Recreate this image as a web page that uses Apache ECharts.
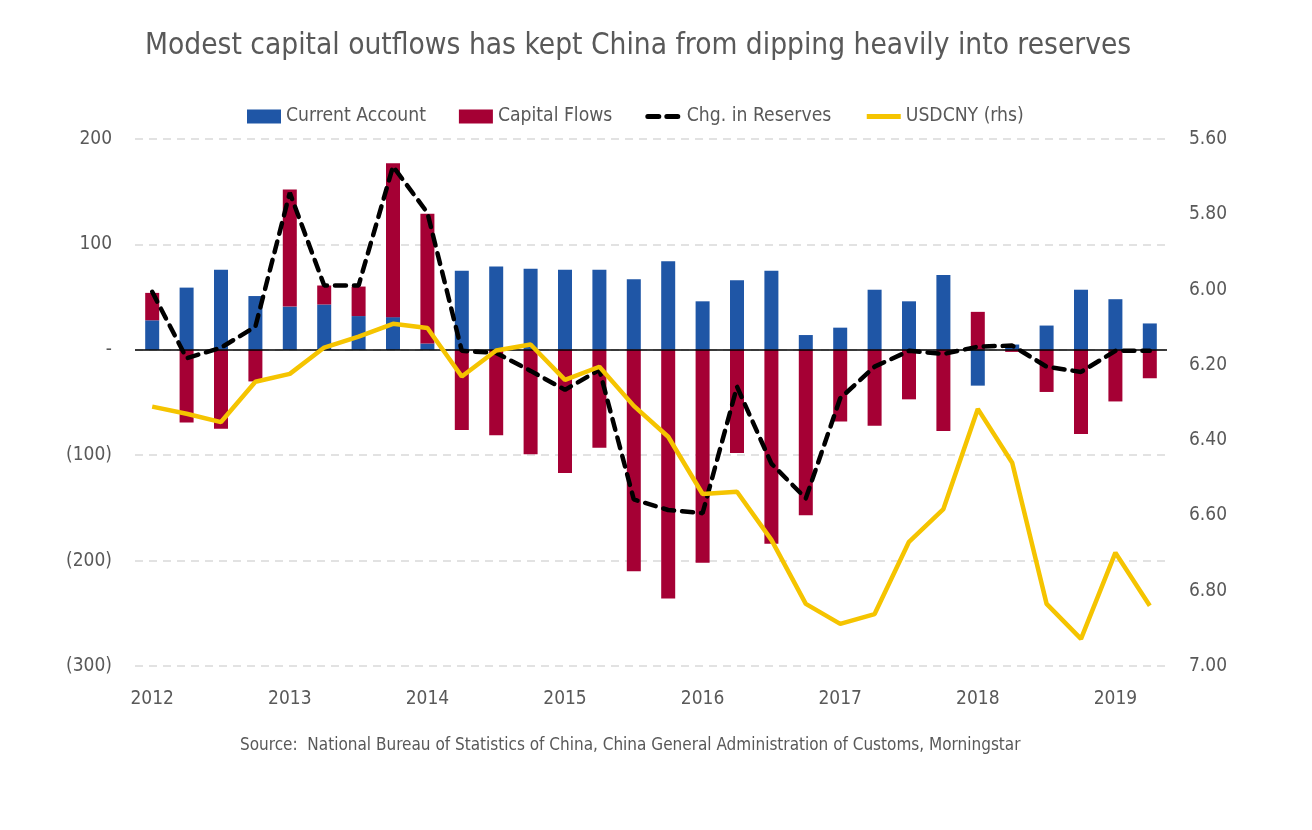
<!DOCTYPE html>
<html>
<head>
<meta charset="utf-8">
<script src="https://cdn.jsdelivr.net/npm/echarts@6/dist/echarts.min.js"></script>
<style>
html,body{margin:0;padding:0;background:#fff;}
#chart{width:1312px;height:830px;}
</style>
</head>
<body>
<div id="chart"></div>
<script>
var quarters = ['2012Q1','2012Q2','2012Q3','2012Q4','2013Q1','2013Q2','2013Q3','2013Q4',
  '2014Q1','2014Q2','2014Q3','2014Q4','2015Q1','2015Q2','2015Q3','2015Q4',
  '2016Q1','2016Q2','2016Q3','2016Q4','2017Q1','2017Q2','2017Q3','2017Q4',
  '2018Q1','2018Q2','2018Q3','2018Q4','2019Q1','2019Q2'];
var currentAccount = [28,59,76,51,41,43,32,31,6,75,79,77,76,76,67,84,46,66,75,14,21,57,46,71,-34,5,23,57,48,25];
var capitalFlows = [26,-69,-75,-30,111,18,28,146,123,-76,-81,-99,-117,-93,-210,-236,-202,-98,-184,-157,-68,-72,-47,-77,36,-2,-40,-80,-49,-27];
var chgReserves = [55,-8,2,22,149,61,61,174,130,-1,-3,-20,-38,-19,-142,-152,-155,-35,-108,-141,-46,-16,-1,-4,3,4,-16,-21,-1,-1];
var usdcny = [6.311,6.330,6.352,6.245,6.224,6.154,6.125,6.091,6.102,6.231,6.162,6.146,6.240,6.205,6.309,6.391,6.543,6.537,6.665,6.835,6.888,6.862,6.670,6.583,6.317,6.460,6.835,6.928,6.699,6.840];
var leftTicks = {min:-300, max:200, interval:100};
var rightTicks = {min:5.6, max:7.0, interval:0.2};

var FONT = '"DejaVu Sans Condensed","Liberation Sans Narrow","Roboto",sans-serif';
var TXT = '#595959';

var chart = echarts.init(document.getElementById('chart'));
chart.setOption({
  animation:false,
  textStyle:{fontFamily:FONT, color:TXT},
  title:{
    text:'Modest capital outflows has kept China from dipping heavily into reserves',
    left:140, top:26,
    textStyle:{fontFamily:FONT, fontSize:29.6, fontWeight:'normal', color:TXT}
  },
  legend:{
    top:102, left:242, itemWidth:34, itemHeight:14, itemGap:33,
    textStyle:{fontFamily:FONT, fontSize:19.2, color:TXT},
    data:[
      {name:'Current Account', icon:'rect'},
      {name:'Capital Flows', icon:'rect'},
      {name:'Chg. in Reserves', itemStyle:{opacity:0}, lineStyle:{width:5}},
      {name:'USDCNY (rhs)', itemStyle:{opacity:0}, lineStyle:{width:5}}
    ]
  },
  graphic:[{
    type:'text', left:240, top:737,
    style:{text:'Source:  National Bureau of Statistics of China, China General Administration of Customs, Morningstar',
      font:'17px ' + FONT, fill:TXT}
  }],
  grid:{left:135, right:145, top:139, bottom:164},
  xAxis:{
    type:'category', data:quarters,
    axisLine:{show:false, onZero:false}, axisTick:{show:false},
    axisLabel:{interval:3, margin:24, fontSize:19, color:TXT, fontFamily:FONT,
      formatter:function(v){return v.slice(0,4);}}
  },
  yAxis:[{
    type:'value', min:leftTicks.min, max:leftTicks.max, interval:leftTicks.interval,
    axisLine:{show:false}, axisTick:{show:false},
    splitLine:{show:true, lineStyle:{color:'#d9d9d9', type:[8,6], width:1.5}},
    axisLabel:{fontSize:19, color:TXT, fontFamily:FONT, margin:23,
      formatter:function(v){ if(v===0) return '-'; return v<0 ? '('+(-v)+')' : String(v);}}
  },{
    type:'value', inverse:true, min:rightTicks.min, max:rightTicks.max, interval:rightTicks.interval,
    axisLine:{show:false}, axisTick:{show:false}, splitLine:{show:false},
    axisLabel:{fontSize:19, color:TXT, fontFamily:FONT, margin:22,
      formatter:function(v){return v.toFixed(2);}}
  }],
  series:[
    {name:'Current Account', type:'bar', stack:'bop', data:currentAccount, barWidth:14,
      itemStyle:{color:'#1F56A6'},
      markLine:{silent:true, symbol:'none', label:{show:false},
        lineStyle:{color:'#000', width:1.5, type:'solid'}, data:[{yAxis:0}]}},
    {name:'Capital Flows', type:'bar', stack:'bop', data:capitalFlows, barWidth:14,
      itemStyle:{color:'#A50034'}},
    {name:'Chg. in Reserves', type:'line', data:chgReserves, symbol:'none', z:5,
      itemStyle:{color:'#000'},
      lineStyle:{color:'#000', width:4.5, type:[11,8], cap:'round'}},
    {name:'USDCNY (rhs)', type:'line', yAxisIndex:1, data:usdcny, symbol:'none', z:6,
      itemStyle:{color:'#F5C400'},
      lineStyle:{color:'#F5C400', width:4.5}}
  ]
});
</script>
</body>
</html>
